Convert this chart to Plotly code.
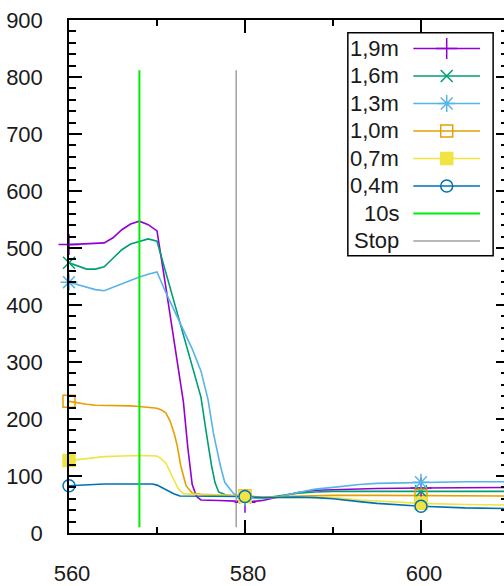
import plotly.graph_objects as go

# ---- readings per sensor height (x = position, y = value) ----
h19_x = [560, 562, 564, 565, 566, 567, 568, 569, 570, 571, 572, 572.6, 573, 573.5, 574, 574.5, 575, 577, 579,
         580, 582, 584, 586, 588, 590, 595, 600, 605, 610]
h19_y = [506, 508, 509, 518, 532, 542, 547, 541, 530, 432, 335, 274, 230, 150, 85, 64, 58, 57, 56,
         54, 57, 64, 71, 75, 76, 78, 79, 80, 80]

h16_x = [560, 561, 562, 563, 564, 565, 566, 567, 568, 569, 570, 571, 572, 573, 574, 575, 575.6, 576.2, 576.6,
         577, 578, 579, 580, 582, 584, 586, 588, 590, 595, 600, 605, 610]
h16_y = [474, 468, 463, 463, 467, 482, 497, 507, 512, 516, 512, 457, 400, 347, 292, 238, 176, 118, 88,
         72, 66, 64, 63, 61, 65, 70, 72, 73, 73, 73, 73, 73]

h13_x = [560, 561, 562, 563, 564, 565, 566, 567, 568, 569, 570, 571, 572, 573, 574, 575, 575.8, 576.4, 577.2,
         577.7, 578.7, 579.5, 580, 582, 584, 586, 588, 590, 593, 595, 600, 605, 610]
h13_y = [440, 436, 431, 427, 425, 431, 438, 444, 449, 454, 458, 422, 389, 356, 323, 284, 234, 176, 118,
         89, 69, 63, 62, 60, 64, 71, 77, 80, 85, 87, 89, 90, 90]

h10_x = [560, 561, 562, 563, 564, 565, 566, 567, 568, 569, 570, 570.5, 571, 571.5, 572, 572.3, 572.7, 573.3,
         574, 575, 577, 579, 580, 582, 584, 586, 590, 595, 600, 605, 610]
h10_y = [231, 228, 226, 224, 224, 223, 224, 223, 222, 221, 219, 216, 211, 196, 172, 153, 118, 83,
         70, 68, 67, 66, 65, 63, 64, 65, 66, 66, 66, 65, 65]

h07_x = [560, 562, 564, 566, 568, 570, 570.5, 571, 571.7, 572.4, 573, 575, 578, 580, 582, 584, 586, 588, 590,
         593, 595, 600, 605, 610]
h07_y = [127, 131, 134, 135, 136, 135, 130, 123, 101, 78, 69, 67, 66, 64, 62, 63, 63, 63, 62,
         58, 56, 52, 50, 49]

h04_x = [560, 562, 564, 566, 568, 569.5, 570, 570.7, 571.9, 572.6, 575, 578, 580, 582, 584, 586, 588, 590,
         593, 595, 600, 605, 610]
h04_y = [83, 85, 86, 86, 86, 86, 84, 78, 69, 65, 65, 64, 64, 62, 63, 63, 62, 60,
         55, 52, 47, 44, 43]

# event markers (vertical lines)
ten_s_x = [568, 568]
ten_s_y = [10, 812]
stop_x = [579, 579]
stop_y = [10, 812]

series_names = ["1,9m", "1,6m", "1,3m", "1,0m", "0,7m", "0,4m"]
event_names = ["10s", "Stop"]
x_ticks = [560, 580, 600]
marked_x = [560, 580, 600]

FONT = "Liberation Sans, Arial, sans-serif"
TXT = "#1a1a1a"

styles = [
    dict(color="#9400D3", symbol="cross-thin-open", size=15),
    dict(color="#009E73", symbol="x-thin-open", size=12),
    dict(color="#56B4E9", symbol="asterisk-open", size=14),
    dict(color="#E69F00", symbol="square-open", size=12),
    dict(color="#F0E442", symbol="square", size=12),
    dict(color="#0072B2", symbol="circle-open", size=12),
]
event_colors = ["#00EE00", "#A0A0A0"]
event_widths = [2, 1.5]

data = [(h19_x, h19_y), (h16_x, h16_y), (h13_x, h13_y),
        (h10_x, h10_y), (h07_x, h07_y), (h04_x, h04_y)]
events = [(ten_s_x, ten_s_y), (stop_x, stop_y)]

fig = go.Figure()

for (xs, ys), st, name in zip(data, styles, series_names):
    fig.add_trace(go.Scatter(x=xs, y=ys, mode="lines", name=name,
                             line=dict(color=st["color"], width=1.6),
                             showlegend=False, hoverinfo="skip"))

for (ex, ey), col, w, name in zip(events, event_colors, event_widths, event_names):
    fig.add_trace(go.Scatter(x=ex, y=ey, mode="lines", name=name,
                             line=dict(color=col, width=w),
                             showlegend=False, hoverinfo="skip"))

# point symbols every 20 units
for (xs, ys), st, name in zip(data, styles, series_names):
    mx = [x for x in xs if x in marked_x]
    my = [y for x, y in zip(xs, ys) if x in marked_x]
    fig.add_trace(go.Scatter(x=mx, y=my, mode="markers", name=name, cliponaxis=False,
                             marker=dict(symbol=st["symbol"], size=st["size"], color=st["color"],
                                         line=dict(color=st["color"], width=1.5)),
                             showlegend=False, hoverinfo="skip"))

# right-hand mirror ticks (border sits just past the visible edge)
fig.add_trace(go.Scatter(x=[560], y=[0], yaxis="y2", mode="markers", marker=dict(opacity=0),
                         showlegend=False, hoverinfo="skip"))

# ---- key box drawn in paper space ----
box_x0, box_x1, box_y0, box_y1 = 0.641, 0.975, 0.5405, 0.975
text_x = 0.764
line_x0, line_xm, line_x1 = 0.7915, 0.8683, 0.9448
row0, row_step = 0.9445, 27.77 / 518

fig.add_shape(type="rect", xref="paper", yref="paper", x0=box_x0, x1=box_x1, y0=box_y0, y1=box_y1,
              line=dict(color="black", width=1.5), fillcolor="white", layer="below")

labels = series_names + event_names
for i, lab in enumerate(labels):
    yy = row0 - i * row_step
    fig.add_annotation(x=text_x, y=yy, xref="paper", yref="paper", text=lab, showarrow=False,
                       xanchor="right", yanchor="middle",
                       font=dict(family=FONT, size=22, color=TXT))
    if i < len(styles):
        st = styles[i]
        fig.add_trace(go.Scatter(x=[line_x0, line_x1], y=[yy, yy], xaxis="x3", yaxis="y3",
                                 mode="lines", line=dict(color=st["color"], width=1.6),
                                 showlegend=False, hoverinfo="skip"))
        fig.add_trace(go.Scatter(x=[line_xm], y=[yy], xaxis="x3", yaxis="y3", mode="markers",
                                 marker=dict(symbol=st["symbol"], size=st["size"], color=st["color"],
                                             line=dict(color=st["color"], width=1.5)),
                                 showlegend=False, hoverinfo="skip"))
    else:
        j = i - len(styles)
        fig.add_trace(go.Scatter(x=[line_x0, line_x1], y=[yy, yy], xaxis="x3", yaxis="y3",
                                 mode="lines", line=dict(color=event_colors[j], width=event_widths[j]),
                                 showlegend=False, hoverinfo="skip"))

axis_common = dict(showgrid=False, zeroline=False, ticks="inside", tickwidth=1.5,
                   tickcolor="black", linecolor="black", linewidth=1.5,
                   tickfont=dict(family=FONT, size=22, color=TXT))

fig.update_layout(
    width=504, height=586,
    margin=dict(l=69, r=0, t=20, b=48),
    paper_bgcolor="white", plot_bgcolor="white",
    showlegend=False,
    xaxis=dict(range=[560, 560 + 435 / 8.8], tickvals=x_ticks, ticklen=13, showline=True,
               mirror="ticks", ticklabelstandoff=20, ticklabelshift=3,
               minor=dict(dtick=10, tick0=560, ticks="inside", ticklen=6, tickwidth=1.5,
                          tickcolor="black"),
               **axis_common),
    yaxis=dict(range=[0, 900], dtick=100, tick0=0, ticklen=13, showline=True, mirror=False,
               ticklabelstandoff=20,
               minor=dict(dtick=20, tick0=0, ticks="inside", ticklen=7, tickwidth=1.5,
                          tickcolor="black"),
               **axis_common),
    yaxis2=dict(range=[0, 900], overlaying="y", side="right", anchor="x", dtick=100, tick0=0,
                ticks="inside", ticklen=8, tickwidth=1.5, tickcolor="black",
                showticklabels=False, showline=False, showgrid=False, zeroline=False,
                minor=dict(dtick=20, tick0=0, ticks="inside", ticklen=3, tickwidth=1.5,
                           tickcolor="black")),
    xaxis3=dict(range=[0, 1], overlaying="x", anchor="y3", visible=False),
    yaxis3=dict(range=[0, 1], overlaying="y", anchor="x3", visible=False),
)

fig.write_html("out.html")
